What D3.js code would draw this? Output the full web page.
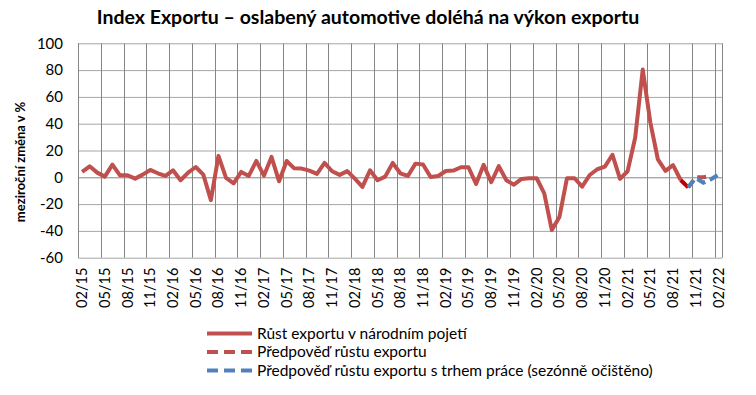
<!DOCTYPE html>
<html>
<head>
<meta charset="utf-8">
<script src="https://cdn.jsdelivr.net/npm/d3@7"></script>
<style>
  body { margin: 0; background: #fff; }
  svg { font-family: Lato, "Liberation Sans", sans-serif; }
</style>
</head>
<body>
<div id="chart"></div>
<script>
// chart data
const title = "Index Exportu – oslabený automotive doléhá na výkon exportu";
const yTitle = "meziroční změna v %";
const yTicks = [-60, -40, -20, 0, 20, 40, 60, 80, 100];
const tickLabels = ["02/15","05/15","08/15","11/15","02/16","05/16","08/16","11/16",
  "02/17","05/17","08/17","11/17","02/18","05/18","08/18","11/18","02/19","05/19",
  "08/19","11/19","02/20","05/20","08/20","11/20","02/21","05/21","08/21","11/21","02/22"];

// Růst exportu v národním pojetí, 02/15 - 09/21
const growthStart = "02/15";
const growth = [4, 8.2, 3.5, 0.5, 9.5, 1.5, 1.5, -1, 2, 5.5, 3, 1, 5.2, -2.2, 3.5, 7.7,
  2, -17, 16, -0.5, -4.5, 4, 1, 12.2, 1.2, 15.2, -3, 12.2, 6.7, 6.5, 5, 2.5, 10.7, 4.5,
  1.8, 4.6, -1, -7.2, 5.2, -2.2, 0.5, 10.7, 3, 1, 10.2, 9.6, 0.2, 1, 4.7, 5, 7.5, 7.5,
  -5, 9.3, -3.7, 8.3, -2.2, -5.5, -1.2, -0.7, -0.7, -12, -39.4, -29.7, -0.7, -0.7, -7,
  1.7, 6, 8, 16.8, -1.2, 4.5, 29.5, 80.5, 41, 13.3, 4.8, 9.1, -2];

// Předpověď růstu exportu, 09/21 - 01/22
const forecastStart = "09/21";
const forecast = [-2, -7.5, 0, 0, 1.2];

// Předpověď růstu exportu s trhem práce, 10/21 - 02/22
const forecastLabourStart = "10/21";
const forecastLabour = [-7.5, -0.5, -4, -1.5, 2];

const legendItems = [
  {name: "Růst exportu v národním pojetí", color: "#C0504D", dash: null},
  {name: "Předpověď růstu exportu", color: "#C0504D", dash: "11,6"},
  {name: "Předpověď růstu exportu s trhem práce (sezónně očištěno)", color: "#4F81BD", dash: "11,6"}
];

const width = 756, height = 395;
const plot = {left: 78.3, right: 722.3, top: 43.3, bottom: 257.7};

const fmt = d3.timeFormat("%m/%y");
const months = d3.timeMonth.range(new Date(2015, 1, 1), new Date(2022, 2, 1)).map(fmt);

const svg = d3.select("#chart")
  .append("svg")
  .attr("width", width)
  .attr("height", height);

const x = d3.scaleBand()
  .domain(months)
  .range([plot.left, plot.right])
  .padding(0);

const y = d3.scaleLinear()
  .domain([-60, 100])
  .range([plot.bottom, plot.top]);

const cx = m => x(m) + x.bandwidth() / 2;

// horizontal gridlines
svg.append("g")
  .selectAll("line")
  .data(yTicks)
  .join("line")
  .attr("x1", plot.left).attr("x2", plot.right)
  .attr("y1", d => y(d) + 0.5).attr("y2", d => y(d) + 0.5)
  .attr("stroke", d => d === 0 ? "#868686" : "#A6A6A6")
  .attr("stroke-width", 1);

// vertical gridlines at the quarter ticks, plus right edge
svg.append("g")
  .selectAll("line")
  .data(tickLabels)
  .join("line")
  .attr("x1", d => Math.round(x(d)) + 0.5).attr("x2", d => Math.round(x(d)) + 0.5)
  .attr("y1", plot.top).attr("y2", plot.bottom)
  .attr("stroke", "#868686");

svg.append("line")
  .attr("x1", Math.round(plot.right) + 0.5).attr("x2", Math.round(plot.right) + 0.5)
  .attr("y1", plot.top).attr("y2", plot.bottom)
  .attr("stroke", "#868686");

// y axis labels
svg.append("g")
  .selectAll("text")
  .data(yTicks)
  .join("text")
  .attr("x", 63)
  .attr("y", d => y(d))
  .attr("dy", "0.35em")
  .attr("text-anchor", "end")
  .attr("font-size", "15px")
  .text(d => d);

// x axis labels, rotated
svg.append("g")
  .selectAll("text")
  .data(tickLabels)
  .join("text")
  .attr("transform", d => `translate(${cx(d) + 5},${plot.bottom + 10}) rotate(-90)`)
  .attr("text-anchor", "end")
  .attr("font-size", "14.5px")
  .text(d => d);

// series lines
const line = start => d3.line()
  .x((d, i) => cx(months[months.indexOf(start) + i]))
  .y(d => y(d));

svg.append("path")
  .datum(growth)
  .attr("fill", "none")
  .attr("stroke", "#C0504D")
  .attr("stroke-width", 4)
  .attr("stroke-linejoin", "round")
  .attr("d", line(growthStart));

svg.append("path")
  .datum(forecast.slice(1))
  .attr("fill", "none")
  .attr("stroke", "#C0504D")
  .attr("stroke-width", 4)
  .attr("stroke-dasharray", "9,5")
  .attr("d", line(months[months.indexOf(forecastStart) + 1]));

svg.append("path")
  .datum(forecast.slice(0, 2))
  .attr("fill", "none")
  .attr("stroke", "#C00000")
  .attr("stroke-width", 4)
  .attr("d", line(forecastStart));

svg.append("path")
  .datum(forecastLabour)
  .attr("fill", "none")
  .attr("stroke", "#4F81BD")
  .attr("stroke-width", 4)
  .attr("stroke-dasharray", "9,5")
  .attr("d", line(forecastLabourStart));

// left axis line
svg.append("line")
  .attr("x1", Math.round(plot.left) + 0.5).attr("x2", Math.round(plot.left) + 0.5)
  .attr("y1", plot.top).attr("y2", plot.bottom)
  .attr("stroke", "#868686");

// title
svg.append("text")
  .attr("x", 368)
  .attr("y", 24)
  .attr("text-anchor", "middle")
  .attr("font-size", "19.5px")
  .attr("font-weight", "bold")
  .text(title);

// y axis title
svg.append("text")
  .attr("transform", "translate(25,162) rotate(-90)")
  .attr("text-anchor", "middle")
  .attr("font-size", "13px")
  .attr("font-weight", "bold")
  .text(yTitle);

// legend
const legend = svg.append("g")
  .selectAll("g")
  .data(legendItems)
  .join("g")
  .attr("transform", (d, i) => `translate(207,${333.5 + i * 18.5})`);

legend.append("line")
  .attr("x1", 0).attr("x2", 45)
  .attr("stroke", d => d.color)
  .attr("stroke-width", 4)
  .attr("stroke-dasharray", d => d.dash);

legend.append("text")
  .attr("x", 50)
  .attr("dy", "0.35em")
  .attr("font-size", "15.5px")
  .text(d => d.name);
</script>
</body>
</html>
